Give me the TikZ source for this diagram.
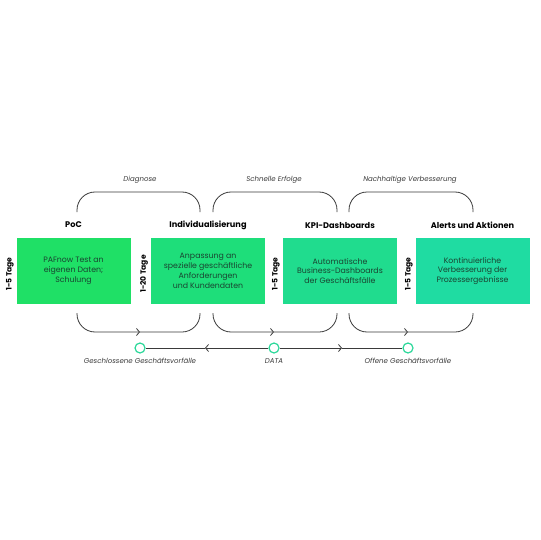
\documentclass[tikz,border=0pt]{standalone}
\usepackage{fontspec}
\setmainfont{Poppins}
\usetikzlibrary{calc,arrows.meta}
\definecolor{boxa}{HTML}{1FE066}
\definecolor{boxb}{HTML}{1EDE7A}
\definecolor{boxc}{HTML}{20DC8E}
\definecolor{boxd}{HTML}{1FDCA2}
\definecolor{boxtext}{HTML}{1A4431}
\definecolor{linegray}{HTML}{3A3A3A}
\definecolor{dotgreen}{HTML}{2CD89A}
\begin{document}
\begin{tikzpicture}[x=1pt,y=-1pt,
  stage/.style={minimum width=114pt,minimum height=66pt,align=center,text=boxtext,inner sep=0pt,font=\fontsize{7.8}{9.8}\selectfont},
  title/.style={font=\bfseries\fontsize{8.2}{9}\selectfont},
  days/.style={rotate=90,font=\bfseries\fontsize{7.6}{8}\selectfont},
  phase/.style={text=linegray,font=\itshape\fontsize{7}{8}\selectfont},
  brace/.style={draw=linegray,line width=0.8pt,rounded corners=18pt},
  tip/.style={-{Straight Barb[length=3pt,width=7pt]}},
  dot/.style={circle,draw=dotgreen,fill=white,line width=1.2pt,minimum size=10pt,inner sep=0pt}]
\useasboundingbox (0,0) rectangle (540,540);

\coordinate (dy) at (0,20);
\coordinate (t0) at (77,212);
\coordinate (t1) at (200,212);
\coordinate (t2) at (213,212);
\coordinate (t3) at (337,212);
\coordinate (t4) at (349,212);
\coordinate (t5) at (473,212);
\coordinate (b0) at ($(t0)+(0,101)$);
\coordinate (b1) at ($(t1)+(0,101)$);
\coordinate (b2) at ($(t2)+(0,101)$);
\coordinate (b3) at ($(t3)+(0,101)$);
\coordinate (b4) at ($(t4)+(0,101)$);
\coordinate (b5) at ($(t5)+(0,101)$);
\coordinate (m0) at (140,332);
\coordinate (m1) at (274,332);
\coordinate (m2) at (408,332);
\coordinate (l0) at (205,348);
\coordinate (l1) at (342,348);

\node[stage,fill=boxa] (poc) at (73.5,271) {PAFnow Test an\\eigenen Daten;\\Schulung};
\node[stage,fill=boxb] (indiv) at (208,271) {Anpassung an\\spezielle geschäftliche\\Anforderungen\\und Kundendaten};
\node[stage,fill=boxc] (kpi) at (340,271) {Automatische\\Business-Dashboards\\der Geschäftsfälle};
\node[stage,fill=boxd] (alert) at (472.5,271) {Kontinuierliche\\Verbesserung der\\Prozessergebnisse};

\node[title] (poct) at (73.5,225) {PoC};
\node[title] (indivt) at (208,225) {Individualisierung};
\node[title] (kpit) at (340,225) {KPI-Dashboards};
\node[title] (alertt) at (472.5,225) {Alerts und Aktionen};

\node[days] (pocd) at (10,274) {1-5 Tage};
\node[days] (indivd) at (144,274) {1-20 Tage};
\node[days] (kpid) at (276,274) {1-5 Tage};
\node[days] (alertd) at (409,274) {1-5 Tage};

\node[phase] (ph0) at (140,180) {Diagnose};
\node[phase] (ph1) at (274,180) {Schnelle Erfolge};
\node[phase] (ph2) at (410,180) {Nachhaltige Verbesserung};

\draw[brace] (t0) -- ($(t0)-(dy)$) -- ($(t1)-(dy)$) -- (t1);
\draw[brace] (t2) -- ($(t2)-(dy)$) -- ($(t3)-(dy)$) -- (t3);
\draw[brace] (t4) -- ($(t4)-(dy)$) -- ($(t5)-(dy)$) -- (t5);

\draw[brace,tip] (b0) |- (m0);
\draw[brace] (m0) -| (b1);
\draw[brace,tip] (b2) |- (m1);
\draw[brace] (m1) -| (b3);
\draw[brace,tip] (b4) |- (m2);
\draw[brace] (m2) -| (b5);

\node[dot] (c0) at (140,348) {};
\node[dot] (c1) at (274,348) {};
\node[dot] (c2) at (408,348) {};

\draw[draw=linegray,line width=0.8pt,tip] (c1) -- (l0);
\draw[draw=linegray,line width=0.8pt] (l0) -- (c0);
\draw[draw=linegray,line width=0.8pt,tip] (c1) -- (l1);
\draw[draw=linegray,line width=0.8pt] (l1) -- (c2);

\node[phase,below=1pt] (c0l) at (c0.south) {Geschlossene Geschäftsvorfälle};
\node[phase,below=1pt] (c1l) at (c1.south) {DATA};
\node[phase,below=1pt] (c2l) at (c2.south) {Offene Geschäftsvorfälle};

\end{tikzpicture}
\end{document}
